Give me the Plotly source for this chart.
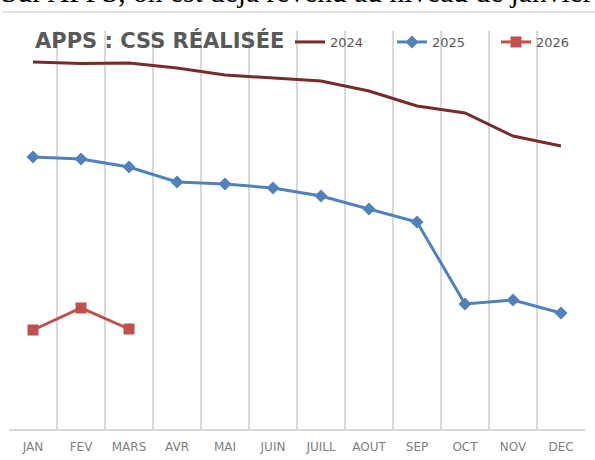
import plotly.graph_objects as go

months = ["JAN", "FEV", "MARS", "AVR", "MAI", "JUIN", "JUILL", "AOUT", "SEP", "OCT", "NOV", "DEC"]
css_2024 = [367, 365.5, 366, 361, 354, 351, 348, 338, 323, 316, 293, 283]
css_2025 = [272, 270, 262, 247, 245, 241, 233, 220, 207, 125, 129, 116]
months_2026 = ["JAN", "FEV", "MARS"]
css_2026 = [99, 121, 100]

W, H = 595, 460
L, R, T, B = 9, 10, 31, 31
pw, ph = W - L - R, H - T - B

def px_x(x):
    return (x - L) / pw

def px_y(y):
    return (H - B - y) / ph

fig = go.Figure()
fig.add_trace(go.Scatter(x=months, y=css_2024, name="2024", mode="lines", legend="legend",
                         line=dict(color="#772C2A", width=3)))
fig.add_trace(go.Scatter(x=months, y=css_2025, name="2025", mode="lines+markers", legend="legend2",
                         line=dict(color="#4F81BD", width=3),
                         marker=dict(symbol="diamond", size=10, color="#4F81BD")))
fig.add_trace(go.Scatter(x=months_2026, y=css_2026, name="2026", mode="lines+markers", legend="legend3",
                         line=dict(color="#C0504D", width=3),
                         marker=dict(symbol="square", size=11, color="#C0504D")))

def leg(xpx):
    return dict(orientation="h", x=px_x(xpx), xanchor="left", y=px_y(42), yanchor="middle",
                font=dict(family="DejaVu Sans", size=13, color="#595959"),
                bgcolor="rgba(0,0,0,0)", borderwidth=0, itemclick=False)

fig.update_layout(
    width=W, height=H,
    margin=dict(l=L, r=R, t=T, b=B, autoexpand=False),
    paper_bgcolor="white", plot_bgcolor="white",
    showlegend=True,
    legend=leg(290), legend2=leg(392), legend3=leg(496),
    xaxis=dict(type="category", categoryorder="array", categoryarray=months,
               range=[-0.5, 11.5], tickson="boundaries", ticks="",
               showgrid=True, gridcolor="#D9D9D9", gridwidth=1.5,
               showline=True, linecolor="#D9D9D9", linewidth=1.5,
               ticklabelstandoff=6, automargin=False,
               tickfont=dict(family="DejaVu Sans", size=12, color="#7F7F7F")),
    yaxis=dict(range=[0, ph], showgrid=False, showticklabels=False, zeroline=False,
               showline=False, ticks="", automargin=False),
)

fig.add_annotation(text="Sur APPS, on est déjà revenu au niveau de janvier",
                   xref="paper", yref="paper", x=px_x(-1), y=px_y(10),
                   xanchor="left", yanchor="bottom", showarrow=False,
                   font=dict(family="Liberation Serif", size=29.5, color="#000000"))
fig.add_annotation(text="<b>APPS : CSS RÉALISÉE</b>",
                   xref="paper", yref="paper", x=px_x(33), y=px_y(40),
                   xanchor="left", yanchor="middle", showarrow=False,
                   font=dict(family="DejaVu Sans", size=21, color="#595959"))
fig.add_shape(type="line", xref="paper", yref="paper",
              x0=px_x(3), x1=px_x(595), y0=px_y(12), y1=px_y(12),
              line=dict(color="#D9D9D9", width=1.5))

fig.write_html("out.html", config={"displayModeBar": False},
               post_script="document.body.style.margin='0';")
